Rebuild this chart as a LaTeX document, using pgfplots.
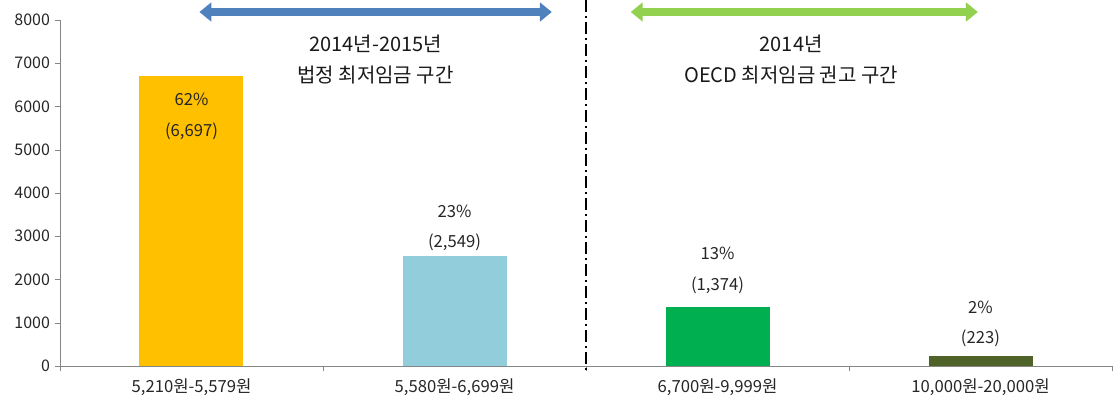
\documentclass[border=0pt]{standalone}
\usepackage{fontspec}
\setmainfont{Noto Sans CJK KR}
\usepackage{pgfplots}
\pgfplotsset{compat=1.18}
\usetikzlibrary{arrows.meta}
\definecolor{barA}{HTML}{FFC000}
\definecolor{barB}{HTML}{92CDDC}
\definecolor{barC}{HTML}{00B050}
\definecolor{barD}{HTML}{4F6228}
\definecolor{arrBlue}{HTML}{4F81BD}
\definecolor{arrGreen}{HTML}{92D050}
\definecolor{axgray}{HTML}{868686}
\begin{document}
\begin{tikzpicture}
\path[use as bounding box] (-45pt,-31.5pt) rectangle (790.5pt,274.5pt);
\begin{axis}[
  scale only axis, width=789pt, height=259.5pt,
  xmin=-0.5, xmax=3.5, ymin=0, ymax=8000,
  ybar, bar width=78pt, clip=false,
  axis x line*=bottom, axis y line*=left,
  axis line style={axgray},
  xtick={0,1,2,3},
  xticklabels={{5,210원-5,579원}, {5,580원-6,699원}, {6,700원-9,999원}, {10,000원-20,000원}},
  major x tick style={draw=none},
  minor xtick={-0.5,0.5,1.5,2.5,3.5},
  minor x tick style={axgray},
  minor tick length=4pt,
  ytick={0,1000,...,8000},
  y tick style={axgray}, major tick length=4pt,
  tick align=outside,
  /pgf/number format/assume math mode=true,
  /pgf/number format/1000 sep={},
  yticklabel style={font=\fontsize{12}{14}\selectfont, text=black!85},
  xticklabel style={font=\fontsize{12.5}{14}\selectfont, text=black!85, yshift=-2pt},
  every node near coord/.append style={font=\fontsize{12.5}{14}\selectfont, align=center, text=black!85},
]
\addplot[fill=barA, draw=none, bar shift=0pt,
  nodes near coords={62\%\\[9pt](6,697)},
  every node near coord/.append style={anchor=north, yshift=-9pt}]
  coordinates {(0,6697)};
\addplot[fill=barB, draw=none, bar shift=0pt,
  nodes near coords={23\%\\[9pt](2,549)},
  every node near coord/.append style={anchor=south, yshift=0pt}]
  coordinates {(1,2549)};
\addplot[fill=barC, draw=none, bar shift=0pt,
  nodes near coords={13\%\\[9pt](1,374)},
  every node near coord/.append style={anchor=south, yshift=6pt}]
  coordinates {(2,1374)};
\addplot[fill=barD, draw=none, bar shift=0pt,
  nodes near coords={2\%\\[8pt](223)},
  every node near coord/.append style={anchor=south, yshift=4pt}]
  coordinates {(3,223)};
% section divider and ranges
\draw[black, line width=1.5pt, dash pattern=on 9pt off 3pt on 1.5pt off 3pt]
  (axis cs:1.5,8460) -- (axis cs:1.5,-140);
\draw[arrBlue, line width=6pt, {Triangle[width=14pt,length=9pt]}-{Triangle[width=14pt,length=9pt]}]
  (axis cs:0.03,8185) -- (axis cs:1.37,8185);
\draw[arrGreen, line width=6pt, {Triangle[width=14pt,length=9pt]}-{Triangle[width=14pt,length=9pt]}]
  (axis cs:1.67,8185) -- (axis cs:2.99,8185);
\node[font=\fontsize{15}{23}\selectfont, align=center, text=black!90] at (axis cs:0.70,7080)
  {2014년-2015년\\법정 최저임금 구간};
\node[font=\fontsize{15}{23}\selectfont, align=center, text=black!90] at (axis cs:2.28,7080)
  {2014년\\OECD 최저임금 권고 구간};
\end{axis}
\end{tikzpicture}
\end{document}
